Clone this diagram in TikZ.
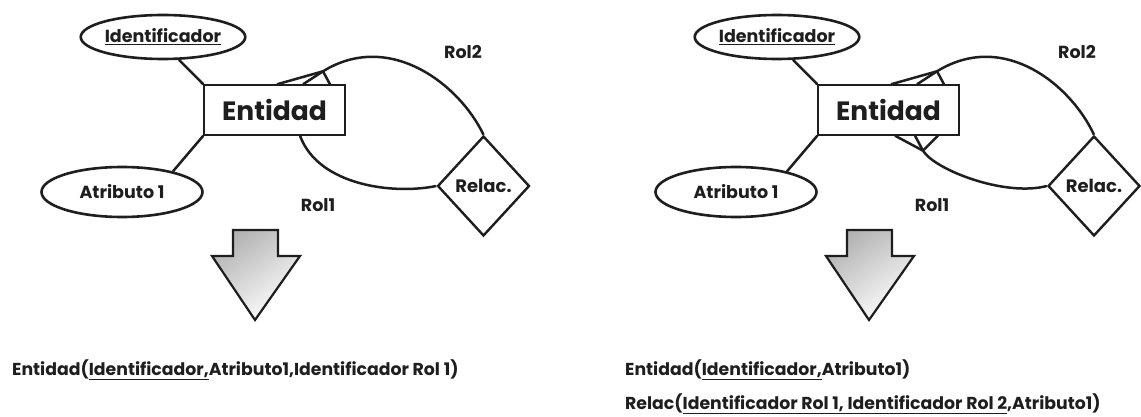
\documentclass[tikz,border=0pt]{standalone}
\usepackage{fontspec}
\setmainfont{Poppins}
\usetikzlibrary{shapes.geometric,calc}
\definecolor{ink}{HTML}{1E1E1E}
\begin{document}
\begin{tikzpicture}[x=1pt,y=-1pt,
  every node/.style={text=ink},
  entbox/.style={draw=ink, line width=1.4pt, minimum width=141pt, minimum height=50pt,
    inner sep=0pt, font=\bfseries\fontsize{26.5}{30}\selectfont},
  attrib/.style={ellipse, draw=ink, line width=2.6pt, inner sep=0pt,
    font=\bfseries\fontsize{17.5}{20}\selectfont},
  relbox/.style={diamond, draw=ink, line width=2.4pt, minimum width=92pt,
    minimum height=100pt, inner sep=0pt, font=\bfseries\fontsize{18}{20}\selectfont},
  role/.style={inner sep=0pt, font=\bfseries\fontsize{17.5}{20}\selectfont},
  link/.style={draw=ink, line width=2.5pt},
  schema/.style={anchor=west, inner sep=0pt, font=\bfseries\fontsize{17.3}{20}\selectfont},
  bigarrow/.style={draw=ink, line width=2.2pt, line join=miter,
    top color=black!30, bottom color=white, shading angle=35}
]
\useasboundingbox (0,0) rectangle (1141,417);

% ---------- first schema: role 1 folded into the entity ----------
\node[entbox] (e1) at (274.5,110) {Entidad};
\node[attrib, minimum width=163pt, minimum height=44pt] (id1) at (163,37) {\underline{Identificador}};
\node[attrib, minimum width=161pt, minimum height=50pt] (at1) at (122,192) {Atributo 1};
\node[relbox] (r1) at (483.5,186) {Relac.};
\node[role] (rol2a) at (463,52) {Rol2};
\node[role] (rol1a) at (318,205) {Rol1};

\draw[link] (id1.-55) -- (e1.north west);
\draw[link] (e1.south west) -- (at1.22);

% role 2: many side, crow's foot on top of the entity
\coordinate (cf1) at ($(e1.north)+(48.5,-13)$);
\draw[link] (r1.north) .. controls (460,85) and (390,30) .. (cf1);
\draw[link] (cf1) -- ($(e1.north)+(2.5,0)$);
\draw[link] (cf1) -- ($(e1.north)+(28.5,0)$);
\draw[link] (cf1) -- ($(e1.north)+(55.5,0)$);
% role 1: one side
\draw[link] (r1.west) .. controls (392,195) and (318,185) .. ($(e1.south)+(25.5,0)$);

\path[bigarrow] (233,230) -- (278,230) -- (278,256) -- (300,256) -- (255,320)
  -- (212,256) -- (233,256) -- cycle;

\node[schema] (s1) at (12,370)
  {Entidad(\underline{Identificador,}Atributo1,Identificador Rol 1)};

% ---------- second schema: relationship becomes its own table ----------
\node[entbox] (e2) at (888.5,110) {Entidad};
\node[attrib, minimum width=163pt, minimum height=44pt] (id2) at (777,37) {\underline{Identificador}};
\node[attrib, minimum width=161pt, minimum height=50pt] (at2) at (736,192) {Atributo 1};
\node[relbox] (r2) at (1094,186) {Relac.};
\node[role] (rol2b) at (1077,52) {Rol2};
\node[role] (rol1b) at (932,205) {Rol1};

\draw[link] (id2.-55) -- (e2.north west);
\draw[link] (e2.south west) -- (at2.22);

% role 2: crow's foot on top
\coordinate (cf2) at ($(e2.north)+(48.5,-13)$);
\draw[link] (r2.north) .. controls (1071,85) and (1004,30) .. (cf2);
\draw[link] (cf2) -- ($(e2.north)+(2.5,0)$);
\draw[link] (cf2) -- ($(e2.north)+(28.5,0)$);
\draw[link] (cf2) -- ($(e2.north)+(55.5,0)$);
% role 1: crow's foot below
\coordinate (cf3) at ($(e2.south)+(34.5,15)$);
\draw[link] (r2.west) .. controls (1005,197) and (935,170) .. (cf3);
\draw[link] (cf3) -- ($(e2.south)+(6.5,0)$);
\draw[link] (cf3) -- ($(e2.south)+(26.5,0)$);
\draw[link] (cf3) -- ($(e2.south)+(49.5,0)$);

\path[bigarrow] (847,230) -- (892,230) -- (892,256) -- (914,256) -- (869,320)
  -- (826,256) -- (847,256) -- cycle;

\node[schema] (s2) at (625,370)
  {Entidad(\underline{Identificador,}Atributo1)};
\node[schema] (s3) at (625,404)
  {Relac(\underline{Identificador Rol 1, Identificador Rol 2},Atributo1)};
\end{tikzpicture}
\end{document}
